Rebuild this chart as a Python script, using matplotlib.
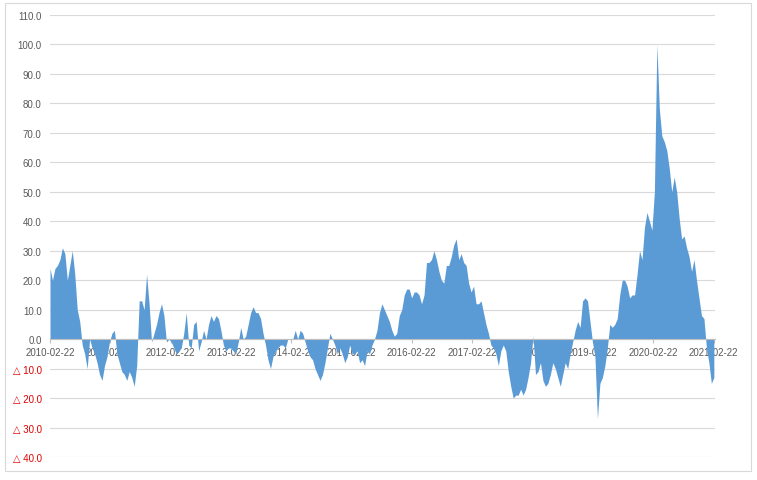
import matplotlib
matplotlib.use("Agg")
import matplotlib.pyplot as plt
import matplotlib.dates as mdates
import pandas as pd
from matplotlib.patches import Rectangle

# values, one every 15 days starting 2010-02-22
y2010 = [24, 20, 24, 25, 27, 31, 29, 20, 25, 30, 22, 10, 6, -2, -5, -10, 0, -3, -5, -8, -12, -14, -9, -6]
y2011 = [-1, 2, 3, -5, -8, -11, -12, -14, -11, -13, -16, -9, 13, 13, 10, 22, 12, -1, 2, 5, 9, 12, 8, -1]
y2012 = [0, -1, -3, -5, -4, -3, 2, 9, -2, -3, 5, 6, -4, -1, 3, 0, 5, 8, 6, 8, 7, 3, -2, -4]
y2013 = [-3, -3, -4, -5, -1, 4, 0, 1, 5, 9, 11, 9, 9, 7, 2, -2, -7, -10, -6, -4, -3, -2, -2, -3]
y2014 = [0, 0, 0, 3, 0, 3, 2, -1, -4, -6, -7, -10, -12, -14, -12, -8, -3, 2, 0, -2, -5, -3, -5, -8]
y2015 = [-6, -2, -5, -5, -4, -8, -7, -9, -4, -5, -2, 0, 3, 9, 12, 10, 8, 6, 3, 1, 2, 8, 10, 15]
y2016 = [17, 17, 14, 16, 16, 15, 12, 15, 26, 26, 27, 30, 27, 23, 20, 19, 25, 25, 28, 32, 34, 27, 29, 26]
y2017 = [25, 19, 16, 18, 12, 12, 13, 9, 5, 2, -2, -3, -5, -9, -4, -2, -4, -11, -16, -20, -19, -19, -17, -19]
y2018 = [-17, -13, -8, 1, -12, -11, -8, -14, -16, -15, -12, -8, -10, -13, -16, -12, -8, -10, -5, -1, 3, 6, 4, 13]
y2019 = [14, 13, 6, -1, -6, -27, -15, -13, -9, -3, 5, 4, 5, 7, 15, 20, 20, 18, 14, 15, 15, 22, 30, 27]
y2020 = [38, 43, 40, 37, 50, 100, 78, 69, 67, 64, 58, 50, 55, 50, 41, 34, 35, 31, 28, 23, 27, 20, 14, 8]
y2021 = [7, -3, -8, -15, -13]

values = y2010 + y2011 + y2012 + y2013 + y2014 + y2015 + y2016 + y2017 + y2018 + y2019 + y2020 + y2021
dates = pd.date_range("2010-02-22", periods=len(values), freq="15D")

tick_dates = pd.to_datetime(["%d-02-22" % y for y in range(2010, 2022)])
y_ticks = list(range(-40, 111, 10))

plt.rcParams["font.family"] = ["Liberation Sans", "DejaVu Sans"]

fig = plt.figure(figsize=(7.57, 4.81), dpi=100)
ax = fig.add_axes([50 / 757, 1 - 458 / 481, 665 / 757, 442 / 481])

ax.fill_between(dates, values, 0, color="#5b9bd5", linewidth=0, zorder=1)

ax.set_ylim(-40, 110)
ax.set_xlim(pd.Timestamp("2010-02-22"), pd.Timestamp("2021-03-03"))
ax.set_yticks(y_ticks)
ax.grid(axis="y", color="#d9d9d9", linewidth=0.8, zorder=0)
ax.set_axisbelow(True)

labels = []
for v in y_ticks:
    if v < 0:
        labels.append("△ %.1f" % abs(v))
    else:
        labels.append("%.1f" % v)
ax.set_yticklabels(labels)
for lab, v in zip(ax.get_yticklabels(), y_ticks):
    lab.set_color("#e00000" if v < 0 else "#595959")
ax.tick_params(axis="y", length=0, pad=6, labelsize=7)

ax.set_xticks(tick_dates)
ax.xaxis.set_major_formatter(mdates.DateFormatter("%Y-%m-%d"))
ax.tick_params(axis="x", length=3, pad=3, labelsize=7, colors="#595959", color="#bfbfbf")

for s in ["left", "right", "top"]:
    ax.spines[s].set_visible(False)
ax.spines["bottom"].set_position(("data", 0))
ax.spines["bottom"].set_color("#bfbfbf")
ax.spines["bottom"].set_linewidth(0.8)
ax.spines["bottom"].set_zorder(3)

fig.patches.append(Rectangle((5 / 757, 1 - 472 / 481), 746 / 757, 468 / 481,
                             transform=fig.transFigure, fill=False,
                             edgecolor="#d9d9d9", linewidth=0.8))

fig.savefig("out.png", dpi=100)
